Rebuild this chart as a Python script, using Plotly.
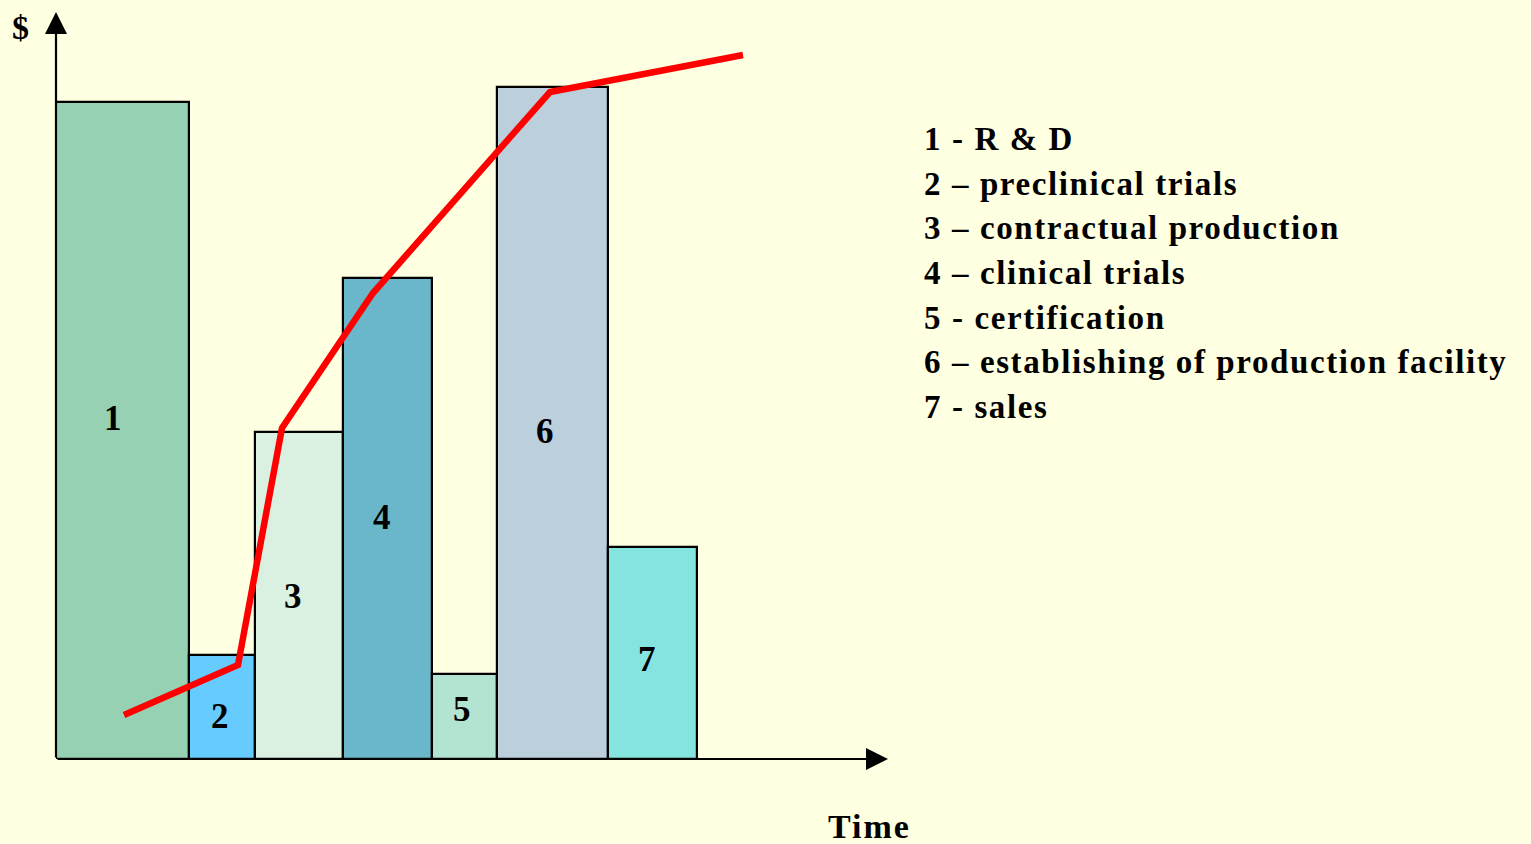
import numpy as np
import plotly.graph_objects as go

# ---- data (time units / $ units) ----
stage_labels = ["1", "2", "3", "4", "5", "6", "7"]
stage_durations = [13.3, 6.6, 8.8, 8.9, 6.5, 11.1, 8.9]
stage_costs = [65.7, 10.4, 32.7, 48.1, 8.5, 67.2, 21.2]
stage_colors = ["#97D1B4", "#66CCFF", "#DAF0E1", "#6AB7CB", "#B3E3D1", "#BCCFDD", "#85E4DF"]
legend_lines = [
    "1 - R &amp; D",
    "2 \u2013 preclinical trials",
    "3 \u2013 contractual production",
    "4 \u2013 clinical trials",
    "5 - certification",
    "6 \u2013 establishing of production facility",
    "7 - sales",
]
curve_time = [6.8, 18.2, 22.6, 31.7, 49.4, 68.7]
curve_value = [4.4, 9.4, 33.1, 46.6, 66.7, 70.4]

# label positions inside bars (offset from bar center in time units, height in $ units)
label_dx = [-0.95, -0.2, -0.6, -0.55, -0.25, -0.75, -0.55]
label_y = [34.1, 4.3, 16.3, 24.2, 5.0, 32.8, 10.0]

X_MAX, Y_MAX = 83.2, 74.7
BG = "#FFFFE1"
FONT = "Liberation Serif, Times New Roman, serif"

L, R, T, B = 56, 643, 12, 85
PW, PH = 1531 - L - R, 844 - T - B


def px(xp):
    return (xp - L) / PW


def py(yp):
    return (844 - B - yp) / PH


def bold(t, ls=2.0):
    return '<b><span style="letter-spacing:%.1fpx">%s</span></b>' % (ls, t)


starts = np.concatenate([[0], np.cumsum(stage_durations)[:-1]])
centers = starts + np.array(stage_durations) / 2

fig = go.Figure()
fig.add_trace(go.Bar(
    x=centers, y=stage_costs, width=stage_durations,
    marker=dict(color=stage_colors, line=dict(color="black", width=2.2)),
    hoverinfo="skip", showlegend=False,
))
fig.add_trace(go.Scatter(
    x=curve_time, y=curve_value, mode="lines",
    line=dict(color="#FF0000", width=6.5),
    hoverinfo="skip", showlegend=False,
))

ann = []
for lab, c, dx, ly in zip(stage_labels, centers, label_dx, label_y):
    ann.append(dict(x=c + dx, y=ly, xref="x", yref="y", text="<b>" + lab + "</b>", showarrow=False,
                    xanchor="center", yanchor="middle",
                    font=dict(family=FONT, size=35, color="black")))

# axes arrows
ann.append(dict(x=X_MAX, y=0, ax=0, ay=0, xref="x", yref="y", axref="x", ayref="y",
                text="", showarrow=True, arrowhead=2, arrowsize=2.0, arrowwidth=2.2, arrowcolor="black"))
ann.append(dict(x=0, y=Y_MAX, ax=0, ay=0, xref="x", yref="y", axref="x", ayref="y",
                text="", showarrow=True, arrowhead=2, arrowsize=2.0, arrowwidth=2.2, arrowcolor="black"))

# axis titles
ann.append(dict(x=px(20), y=py(27), xref="paper", yref="paper", text="<b>$</b>", showarrow=False,
                xanchor="center", yanchor="middle",
                font=dict(family=FONT, size=34, color="black")))
ann.append(dict(x=px(869), y=py(826), xref="paper", yref="paper", text=bold("Time", 2.0), showarrow=False,
                xanchor="center", yanchor="middle",
                font=dict(family=FONT, size=34, color="black")))

# legend text
for i, line in enumerate(legend_lines):
    ypix = 139 + i * 44.7
    ann.append(dict(x=px(922), y=py(ypix), xref="paper", yref="paper", text=bold(line, 1.6),
                    showarrow=False, xanchor="left", yanchor="middle",
                    font=dict(family=FONT, size=33, color="black")))

fig.update_layout(
    width=1531, height=844,
    margin=dict(l=L, r=R, t=T, b=B, pad=0),
    paper_bgcolor=BG, plot_bgcolor=BG,
    xaxis=dict(range=[0, X_MAX], visible=False, fixedrange=True),
    yaxis=dict(range=[0, Y_MAX], visible=False, fixedrange=True),
    annotations=ann,
    bargap=0,
)
fig.write_html("out.html", config={"displayModeBar": False},
               post_script="document.body.style.margin='0';document.body.style.background='%s';" % BG)
